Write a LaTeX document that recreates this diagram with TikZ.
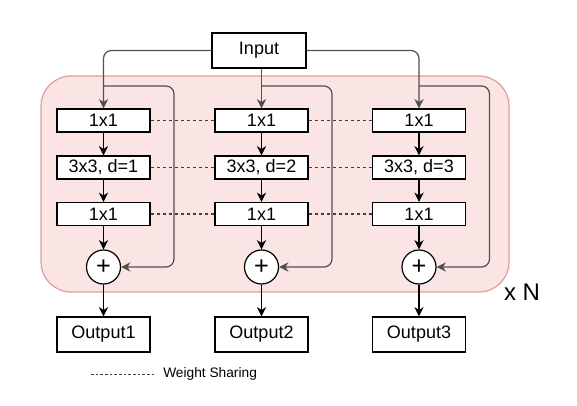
\documentclass[tikz,border=0pt]{standalone}
\usepackage{fontspec}
\setmainfont{Liberation Sans}
\usetikzlibrary{arrows.meta}

\definecolor{blockfill}{RGB}{250,228,228}
\definecolor{blockline}{RGB}{222,158,158}
\definecolor{skipgray}{RGB}{80,80,80}

\tikzset{
  blockbox/.style={draw, fill=white, line width=0.9pt, inner sep=0pt,
    minimum width=69.75pt, minimum height=17.25pt,
    font=\fontsize{13.5}{15}\selectfont},
  addcirc/.style={draw, circle, fill=white, line width=0.9pt, inner sep=0pt,
    minimum size=25.5pt, font=\fontsize{19}{20}\selectfont},
  arr/.style={line width=0.9pt, -{Stealth[length=7pt, width=7pt, inset=2.2pt]}},
  skiparr/.style={arr, draw=skipgray, rounded corners=6pt},
  share/.style={line width=0.8pt, draw=black!75, dash pattern=on 2.5pt off 2pt},
}

\begin{document}
\begin{tikzpicture}[x=0.75pt, y=-0.75pt]
\useasboundingbox (0,0) rectangle (577,406);

% Repeated block
\draw[fill=blockfill, draw=blockline, line width=0.9pt, rounded corners=22.5pt]
  (41,76) rectangle (509,292);
\node[font=\fontsize{18}{20}\selectfont] (times) at (522,292) {x N};

% Input
\node[blockbox, minimum width=70.5pt, minimum height=26.25pt] (input) at (259,50.5) {Input};

% Branches
\foreach \i/\x in {1/103.5, 2/261.5, 3/419}{
  \node[blockbox] (a\i) at (\x,120.5) {1x1};
  \node[blockbox] (b\i) at (\x,167.5) {3x3, d=\i};
  \node[blockbox] (c\i) at (\x,214) {1x1};
  \node[addcirc] (s\i) at (\x,267) {+};
  \node[blockbox, minimum height=26.25pt] (o\i) at (\x,334.5) {Output\i};
  \coordinate (k\i) at (\x,86);
  \coordinate (t\i) at (\x+70.5,86);
  \draw[arr] (a\i) -- (b\i);
  \draw[arr] (b\i) -- (c\i);
  \draw[arr] (c\i) -- (s\i);
  \draw[arr] (s\i) -- (o\i);
  % skip connection
  \draw[skiparr] (k\i) -- (t\i) |- (s\i);
}

% Input to branches
\draw[skiparr] (input.west) -| (a1);
\draw[skiparr] (input.south -| a2) -- (a2);
\draw[skiparr] (input.east) -| (a3);

% Weight sharing
\foreach \r in {a,b,c}{
  \draw[share] (\r1) -- (\r2);
  \draw[share] (\r2) -- (\r3);
}

% Legend
\node[anchor=west, inner sep=0pt, font=\fontsize{10.3}{12}\selectfont] (legend) at (163,374) {Weight Sharing};
\coordinate (l1) at (91,374);
\draw[share, line width=0.6pt, dash pattern=on 2pt off 1.5pt] (l1) -- (155,374);

\end{tikzpicture}
\end{document}
